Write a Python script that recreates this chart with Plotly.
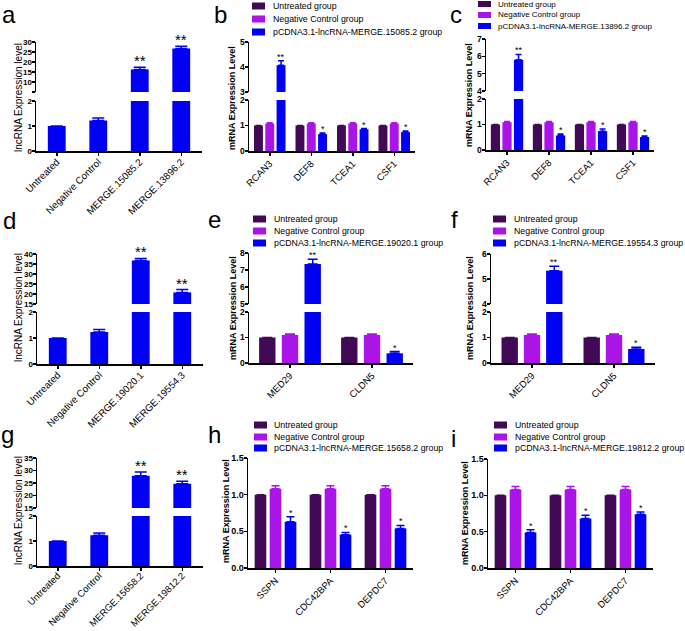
import plotly.graph_objects as go

W, H = 685, 631
OX, OY = 0, 0
FONT = "Arial, Liberation Sans, Helvetica, sans-serif"

# ---------------- data ----------------
a_labels = ["Untreated", "Negative Control", "MERGE.15085.2", "MERGE.13896.2"]
a_values = [1.0, 1.22, 16.3, 26.8]
a_errors = [0.0, 0.1, 1.1, 1.1]
a_stars = ["", "", "**", "**"]

d_labels = ["Untreated", "Negative Control", "MERGE.19020.1", "MERGE.19554.3"]
d_values = [1.0, 1.23, 36.7, 20.8]
d_errors = [0.0, 0.1, 1.1, 1.4]
d_stars = ["", "", "**", "**"]

g_labels = ["Untreated", "Negative Control", "MERGE.15658.2", "MERGE.19812.2"]
g_values = [1.0, 1.23, 27.9, 24.7]
g_errors = [0.0, 0.09, 1.5, 1.0]
g_stars = ["", "", "**", "**"]

common_series = ["Untreated group", "Negative Control group"]

b_genes = ["RCAN3", "DEF8", "TCEA1", "CSF1"]
b_third = "pCDNA3.1-lncRNA-MERGE.15085.2 group"
b_untreated = [1.0, 1.0, 1.0, 1.0]
b_untreated_err = [0.0, 0.0, 0.0, 0.0]
b_negative = [1.08, 1.08, 1.08, 1.08]
b_negative_err = [0.03, 0.03, 0.03, 0.03]
b_overexp = [4.07, 0.66, 0.85, 0.74]
b_overexp_err = [0.18, 0.05, 0.03, 0.04]
b_stars = ["**", "*", "*", "*"]

c_genes = ["RCAN3", "DEF8", "TCEA1", "CSF1"]
c_third = "pCDNA3.1-lncRNA-MERGE.13896.2 group"
c_untreated = [1.0, 1.0, 1.0, 1.0]
c_untreated_err = [0.0, 0.0, 0.0, 0.0]
c_negative = [1.09, 1.09, 1.09, 1.09]
c_negative_err = [0.03, 0.03, 0.03, 0.03]
c_overexp = [5.81, 0.57, 0.74, 0.51]
c_overexp_err = [0.3, 0.06, 0.08, 0.04]
c_stars = ["**", "*", "*", "*"]

e_genes = ["MED29", "CLDN5"]
e_third = "pCDNA3.1-lncRNA-MERGE.19020.1 group"
e_untreated = [1.0, 1.0]
e_untreated_err = [0.0, 0.0]
e_negative = [1.1, 1.1]
e_negative_err = [0.04, 0.04]
e_overexp = [7.36, 0.38]
e_overexp_err = [0.27, 0.07]
e_stars = ["**", "*"]

f_genes = ["MED29", "CLDN5"]
f_third = "pCDNA3.1-lncRNA-MERGE.19554.3 group"
f_untreated = [1.0, 1.0]
f_untreated_err = [0.0, 0.0]
f_negative = [1.1, 1.1]
f_negative_err = [0.04, 0.04]
f_overexp = [5.33, 0.55]
f_overexp_err = [0.18, 0.07]
f_stars = ["**", "*"]

h_genes = ["SSPN", "CDC42BPA", "DEPDC7"]
h_third = "pCDNA3.1-lncRNA-MERGE.15658.2 group"
h_untreated = [1.0, 1.0, 1.0]
h_untreated_err = [0.0, 0.0, 0.0]
h_negative = [1.08, 1.08, 1.08]
h_negative_err = [0.04, 0.04, 0.04]
h_overexp = [0.63, 0.455, 0.54]
h_overexp_err = [0.07, 0.03, 0.04]
h_stars = ["*", "*", "*"]

i_genes = ["SSPN", "CDC42BPA", "DEPDC7"]
i_third = "pCDNA3.1-lncRNA-MERGE.19812.2 group"
i_untreated = [1.0, 1.0, 1.0]
i_untreated_err = [0.0, 0.0, 0.0]
i_negative = [1.08, 1.08, 1.08]
i_negative_err = [0.04, 0.04, 0.04]
i_overexp = [0.49, 0.68, 0.74]
i_overexp_err = [0.035, 0.045, 0.03]
i_stars = ["*", "*", "*"]

# ---------------- styles ----------------
DARK = "#420A55"
PURPLE = "#AA14E6"
BLUE = "#0000F5"

fig = go.Figure()
axes = {}
annotations = []
shapes = []
counter = {"x": 0, "y": 0}


def fx(p):
    return (p - OX) / W


def fy(p):
    return 1 - (p - OY) / H


def new_axis(kind):
    counter[kind] += 1
    n = counter[kind]
    return (f"{kind}axis" if n == 1 else f"{kind}axis{n}"), (kind if n == 1 else f"{kind}{n}")


def panel(cats, series, xpx, segments, stars, star_size, cap, ytitle, ytitle_pos, ybold,
          letter, letter_pos, bar_w, slot=0.0, xfont=10.0, yfont=8.5, xstand=-1):
    xkey, xref = new_axis("x")
    seg_refs = []
    for seg in segments:
        ykey, yref = new_axis("y")
        top, bottom, rng, tv, tt = seg
        seg_refs.append((yref, rng))
        axes[ykey] = dict(
            domain=[fy(bottom), fy(top)], range=rng, anchor=xref,
            tickmode="array", tickvals=tv, ticktext=tt,
            showline=True, linecolor="black", linewidth=1.5,
            ticks="outside", ticklen=3, tickwidth=1.5, tickcolor="black",
            ticklabelstandoff=-2,
            showgrid=False, zeroline=False, fixedrange=True, automargin=False,
            tickfont=dict(family=FONT, size=yfont, color="black", weight="bold"),
        )
    lower_ref = seg_refs[0][0]
    axes[xkey] = dict(
        domain=[fx(xpx[0]), fx(xpx[1])], anchor=lower_ref, type="category",
        range=[-0.5, len(cats) - 0.5],
        showline=True, linecolor="black", linewidth=1.5,
        ticks="outside", ticklen=3, tickwidth=1.5, tickcolor="black",
        ticklabelstandoff=xstand,
        tickangle=-45, showgrid=False, zeroline=False, automargin=False,
        tickfont=dict(family=FONT, size=xfont, color="black"),
    )
    n_series = len(series)
    for yref, rng in seg_refs:
        for k, (name, vals, errs, color) in enumerate(series):
            off = -(slot * (n_series - 1) + bar_w) / 2 + k * slot
            fig.add_trace(go.Bar(
                x=cats, y=vals, name=name, xaxis=xref, yaxis=yref,
                width=bar_w, offset=off, showlegend=False, hoverinfo="skip",
                marker=dict(color=color, line=dict(width=0)),
                error_y=dict(type="data", array=errs, arrayminus=[0] * len(errs),
                             symmetric=False, color=color, thickness=1.5, width=cap, visible=True),
            ))
    # significance stars on last series
    name, vals, errs, color = series[-1]
    k = n_series - 1
    centre = -(slot * (n_series - 1) + bar_w) / 2 + k * slot + bar_w / 2
    for ci, (cat, v, e, s) in enumerate(zip(cats, vals, errs, stars)):
        if not s:
            continue
        topv = v + e
        yref_use = seg_refs[0][0]
        for yref, rng in seg_refs:
            if rng[0] <= topv <= rng[1]:
                yref_use = yref
        annotations.append(dict(
            x=ci + centre, y=topv, xref=xref, yref=yref_use, text=s, showarrow=False,
            yanchor="bottom", yshift=-4 if star_size > 12 else -3,
            font=dict(family=FONT, size=star_size, color="black"),
        ))
    annotations.append(dict(
        x=fx(ytitle_pos[0]), y=fy(ytitle_pos[1]), xref="paper", yref="paper",
        text=ytitle, textangle=-90, showarrow=False, xanchor="center", yanchor="middle",
        font=dict(family=FONT, size=9 if ybold else 10, color="black",
                  weight="bold" if ybold else "normal"),
    ))
    annotations.append(dict(
        x=fx(letter_pos[0]), y=fy(letter_pos[1]), xref="paper", yref="paper",
        text=letter, showarrow=False, xanchor="center", yanchor="middle",
        font=dict(family=FONT, size=24, color="black"),
    ))


def legend(series, x_sq, rows_y, text_x, size=8.8, sq_h=7):
    for (name, vals, errs, color), ry in zip(series, rows_y):
        shapes.append(dict(type="rect", xref="paper", yref="paper",
                           x0=fx(x_sq), x1=fx(x_sq + 13), y0=fy(ry + sq_h / 2), y1=fy(ry - sq_h / 2),
                           fillcolor=color, line=dict(width=0)))
        annotations.append(dict(x=fx(text_x), y=fy(ry), xref="paper", yref="paper",
                                text=name, showarrow=False, xanchor="left", yanchor="middle",
                                font=dict(family=FONT, size=size, color="black")))


def ticks(vals, blank_first=False):
    txt = [str(v) for v in vals]
    if blank_first:
        txt[0] = ""
    return vals, txt


LNC = "lncRNA Expression level"
MRNA = "mRNA Expression Level"
lower3 = ticks([0, 1, 2])

# ---- a ----
panel(a_labels, [("lncRNA", a_values, a_errors, BLUE)], (36, 202),
      [(101, 151, [0, 2], *lower3), (42, 92, [5, 30], *ticks([5, 10, 15, 20, 25, 30], True))],
      a_stars, 15, 6, LNC, (18, 98), False, "a", (9, 14), 0.43, xfont=9.8, yfont=8, xstand=-3)

# ---- b ----
b_series = [(common_series[0], b_untreated, b_untreated_err, DARK),
            (common_series[1], b_negative, b_negative_err, PURPLE),
            (b_third, b_overexp, b_overexp_err, BLUE)]
panel(b_genes, b_series, (249, 415),
      [(100, 151, [0, 2], *lower3), (42, 92, [3, 5], *ticks([3, 4, 5]))],
      b_stars, 9, 3, MRNA, (232, 98), True, "b", (220, 15), 0.215, 0.272, xfont=9.5)
legend(b_series, 252, [6, 19, 32], 271)

# ---- c ----
c_series = [(common_series[0], c_untreated, c_untreated_err, DARK),
            (common_series[1], c_negative, c_negative_err, PURPLE),
            (c_third, c_overexp, c_overexp_err, BLUE)]
panel(c_genes, c_series, (486, 654),
      [(99, 150, [0, 2], *lower3), (39, 91, [4, 7], *ticks([4, 5, 6, 7]))],
      c_stars, 9, 3, MRNA, (469, 95), True, "c", (456, 14), 0.22, 0.275, xfont=9.5)
legend(c_series, 478, [4, 15, 26], 496, size=8.0, sq_h=6)

# ---- d ----
panel(d_labels, [("lncRNA", d_values, d_errors, BLUE)], (37, 203),
      [(312, 364, [0, 2], *lower3), (254, 304, [15, 40], *ticks([15, 20, 25, 30, 35, 40]))],
      d_stars, 15, 6, LNC, (18, 308), False, "d", (9, 220), 0.43, xfont=9.8, yfont=8, xstand=-3)

# ---- e ----
e_series = [(common_series[0], e_untreated, e_untreated_err, DARK),
            (common_series[1], e_negative, e_negative_err, PURPLE),
            (e_third, e_overexp, e_overexp_err, BLUE)]
panel(e_genes, e_series, (249, 413),
      [(312, 363, [0, 2], *lower3), (253, 304, [5, 8], *ticks([5, 6, 7, 8]))],
      e_stars, 9, 5, MRNA, (233, 308), True, "e", (214, 219), 0.2, 0.277, xfont=9.5)
legend(e_series, 253, [219, 231, 243], 272)

# ---- f ----
f_series = [(common_series[0], f_untreated, f_untreated_err, DARK),
            (common_series[1], f_negative, f_negative_err, PURPLE),
            (f_third, f_overexp, f_overexp_err, BLUE)]
panel(f_genes, f_series, (491, 655),
      [(312, 363, [0, 2], *lower3), (254, 304, [4, 6], *ticks([4, 5, 6]))],
      f_stars, 9, 5, MRNA, (470, 308), True, "f", (454, 219), 0.2, 0.272, xfont=9.5)
legend(f_series, 493, [219, 231, 243], 512)

# ---- g ----
panel(g_labels, [("lncRNA", g_values, g_errors, BLUE)], (37, 203),
      [(516, 566, [0, 2], *lower3), (458, 508, [15, 35], *ticks([15, 20, 25, 30, 35]))],
      g_stars, 15, 6, LNC, (18, 511), False, "g", (8, 434), 0.43, xfont=9.5, yfont=8, xstand=-4)

# ---- h ----
h_series = [(common_series[0], h_untreated, h_untreated_err, DARK),
            (common_series[1], h_negative, h_negative_err, PURPLE),
            (h_third, h_overexp, h_overexp_err, BLUE)]
panel(h_genes, h_series, (248, 413),
      [(458, 568, [0, 1.5], [0, 0.5, 1.0, 1.5], ["0.0", "0.5", "1.0", "1.5"])],
      h_stars, 9, 4, MRNA, (226, 511), True, "h", (214, 434), 0.212, 0.273, xfont=9.5, yfont=9)
legend(h_series, 254, [425, 437, 448], 272)

# ---- i ----
i_series = [(common_series[0], i_untreated, i_untreated_err, DARK),
            (common_series[1], i_negative, i_negative_err, PURPLE),
            (i_third, i_overexp, i_overexp_err, BLUE)]
panel(i_genes, i_series, (488, 653),
      [(459, 568, [0, 1.5], [0, 0.5, 1.0, 1.5], ["0.0", "0.5", "1.0", "1.5"])],
      i_stars, 9, 4, MRNA, (465, 513), True, "i", (453, 438), 0.212, 0.273, xfont=9.5, yfont=9)
legend(i_series, 494, [425, 437, 448], 513)

fig.update_layout(
    width=W, height=H,
    margin=dict(l=0, r=0, t=0, b=0, pad=0, autoexpand=False),
    paper_bgcolor="white", plot_bgcolor="white",
    barmode="overlay", showlegend=False, hovermode=False,
    font=dict(family=FONT, color="black"),
    annotations=annotations, shapes=shapes,
    **axes,
)

fig.write_html(
    "out.html",
    config={"displayModeBar": False, "staticPlot": True},
    post_script="document.body.style.margin='0px'; document.body.style.overflow='hidden';",
)
